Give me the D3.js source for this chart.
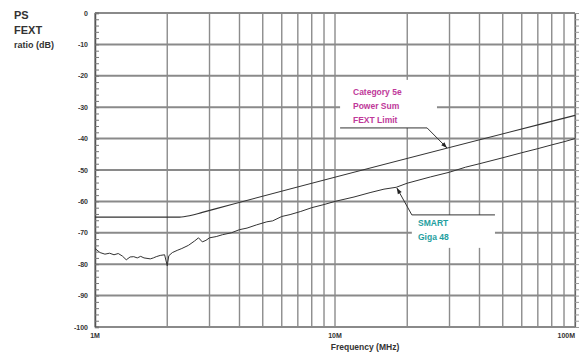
<!DOCTYPE html>
<html>
<head>
<meta charset="utf-8">
<script src="https://cdn.jsdelivr.net/npm/d3@7"></script>
<style>
  body { margin: 0; background: #fff; }
  text { font-family: "Liberation Sans", Arial, sans-serif; }
</style>
</head>
<body>
<script>
// frequency in MHz, ratio in dB
var limitFreq = [1, 2.25, 2.5, 2.8, 3.2, 100];
var limitDb   = [-65, -65, -64.5, -63.5, -62.3, -32.6];

var measFreq = [1.0, 1.03, 1.05, 1.1, 1.15, 1.2, 1.25, 1.3, 1.35, 1.4, 1.45, 1.5, 1.55, 1.6,
  1.7, 1.75, 1.8, 1.87, 1.95, 2.0, 2.03, 2.1, 2.2, 2.3, 2.45, 2.6, 2.7, 2.8, 2.9, 3.0,
  3.2, 3.4, 3.7, 4.0, 4.3, 4.7, 5.2, 5.5, 6.0, 6.5, 7.2, 8.0, 9.0, 10, 12, 14, 16, 18,
  20, 25, 30, 35, 40, 50, 60, 70, 80, 90, 100];
var measDb = [-75.0, -75.8, -76.3, -76.8, -76.5, -77.0, -76.6, -77.4, -78.6, -77.7, -77.6, -78.0, -77.5, -78.0,
  -78.3, -78.0, -77.6, -77.2, -77.0, -80.5, -77.3, -76.3, -75.6, -75.0, -74.0, -72.6, -71.6, -72.9, -72.4, -71.6,
  -71.2, -70.6, -70.0, -69.0, -68.5, -67.5, -66.5, -66.2, -64.8, -64.2, -63.2, -62.0, -61.0, -60.0, -58.6, -57.2, -56.1, -55.5,
  -54.2, -52.2, -50.7, -49.1, -48.0, -46.1, -44.5, -43.2, -42.0, -41.0, -40.0];

var yTicks = [0, -10, -20, -30, -40, -50, -60, -70, -80, -90, -100];
var xLabels = [1, 10, 100];
var xLabelText = ["1M", "10M", "100M"];

var W = 583, H = 353;
var svg = d3.select("body").append("svg")
  .attr("width", W)
  .attr("height", H);

var x = d3.scaleLog().domain([1, 100]).range([95, 575]);
var y = d3.scaleLinear().domain([-100, 0]).range([327, 13]);

// vertical grid
svg.append("g").selectAll("line")
  .data(x.ticks())
  .enter().append("line")
  .attr("x1", function(d) { return x(d); })
  .attr("x2", function(d) { return x(d); })
  .attr("y1", y(0)).attr("y2", y(-100))
  .attr("stroke", "#8c8c8c")
  .attr("stroke-width", 1.4);

// horizontal grid
svg.append("g").selectAll("line")
  .data(yTicks)
  .enter().append("line")
  .attr("x1", x(1)).attr("x2", x(100))
  .attr("y1", function(d) { return y(d); })
  .attr("y2", function(d) { return y(d); })
  .attr("stroke", "#8a8a8a")
  .attr("stroke-width", 2);

// left axis, minor ticks inward
var leftAxis = d3.axisRight(y)
  .tickValues(d3.range(-100, 1, 2))
  .tickSize(4)
  .tickFormat("");
svg.append("g")
  .attr("transform", "translate(" + x(1) + ",0)")
  .call(leftAxis)
  .call(function(g) {
    g.select(".domain").attr("stroke", "#555").attr("stroke-width", 1.5);
    g.selectAll(".tick line").attr("stroke", "#777");
  });

// right axis, minor ticks outward
var rightAxis = d3.axisRight(y)
  .tickValues(d3.range(-100, 1, 2))
  .tickSize(4)
  .tickFormat("");
svg.append("g")
  .attr("transform", "translate(" + x(100) + ",0)")
  .call(rightAxis)
  .call(function(g) {
    g.select(".domain").attr("stroke", "#666").attr("stroke-width", 1.2);
    g.selectAll(".tick line").attr("stroke", "#999");
  });

// y tick labels
svg.append("g").selectAll("text")
  .data(yTicks)
  .enter().append("text")
  .attr("x", 88)
  .attr("y", function(d) { return y(d) + 2.5; })
  .attr("text-anchor", "end")
  .attr("font-size", 7)
  .attr("font-weight", "bold")
  .attr("fill", "#333")
  .text(function(d) { return d; });

// x tick labels
svg.append("g").selectAll("text")
  .data(xLabels)
  .enter().append("text")
  .attr("x", function(d) { return x(d); })
  .attr("y", 338)
  .attr("text-anchor", function(d, i) { return i == 2 ? "end" : "middle"; })
  .attr("font-size", 7)
  .attr("font-weight", "bold")
  .attr("fill", "#333")
  .text(function(d, i) { return xLabelText[i]; });

svg.append("text")
  .attr("x", 365).attr("y", 350)
  .attr("text-anchor", "middle")
  .attr("font-size", 8.5)
  .attr("font-weight", "bold")
  .attr("fill", "#333")
  .text("Frequency (MHz)");

var yTitle = svg.append("text")
  .attr("font-weight", "bold")
  .attr("fill", "#333");
yTitle.append("tspan").attr("x", 14).attr("y", 19).attr("font-size", 11).text("PS");
yTitle.append("tspan").attr("x", 14).attr("y", 34).attr("font-size", 11).text("FEXT");
yTitle.append("tspan").attr("x", 14).attr("y", 48).attr("font-size", 9).text("ratio (dB)");

// curves
var line = d3.line()
  .x(function(d) { return x(d[0]); })
  .y(function(d) { return y(d[1]); });

svg.append("path")
  .datum(d3.zip(limitFreq, limitDb))
  .attr("d", line.curve(d3.curveMonotoneX))
  .attr("fill", "none")
  .attr("stroke", "#333")
  .attr("stroke-width", 1.1);

svg.append("path")
  .datum(d3.zip(measFreq, measDb))
  .attr("d", line.curve(d3.curveLinear))
  .attr("fill", "none")
  .attr("stroke", "#333")
  .attr("stroke-width", 1);

// annotations (in data units)
function callout(box, knee, end, tip, lines, color, textX, textY) {
  svg.append("rect")
    .attr("x", x(box[0])).attr("y", y(box[1]))
    .attr("width", x(box[2]) - x(box[0]))
    .attr("height", y(box[3]) - y(box[1]))
    .attr("fill", "#fff");
  svg.append("polyline")
    .attr("points", [[x(end[0]), y(end[1])], [x(knee[0]), y(knee[1])], [x(tip[0]), y(tip[1])]].join(" "))
    .attr("fill", "none")
    .attr("stroke", "#333")
    .attr("stroke-width", 1);
  var ang = Math.atan2(y(tip[1]) - y(knee[1]), x(tip[0]) - x(knee[0])) * 180 / Math.PI;
  svg.append("path")
    .attr("d", "M0,0L-6,-2.2L-6,2.2Z")
    .attr("transform", "translate(" + x(tip[0]) + "," + y(tip[1]) + ")rotate(" + ang + ")")
    .attr("fill", "#222");
  var t = svg.append("text")
    .attr("font-size", 8.5)
    .attr("font-weight", "bold")
    .attr("fill", color);
  lines.forEach(function(s, i) {
    t.append("tspan").attr("x", textX).attr("y", textY + i * 14).text(s);
  });
}

callout([10.5, -21.3, 26.6, -36.6], [24.2, -36.6], [10.5, -36.6], [29.3, -43.0],
  ["Category 5e", "Power Sum", "FEXT Limit"], "#c0399a", 353, 95);
callout([20.9, -64.3, 46.4, -74.8], [20.9, -64.3], [46.4, -64.3], [18.1, -55.7],
  ["SMART", "Giga 48"], "#1fa0a0", 418, 226);
</script>
</body>
</html>
